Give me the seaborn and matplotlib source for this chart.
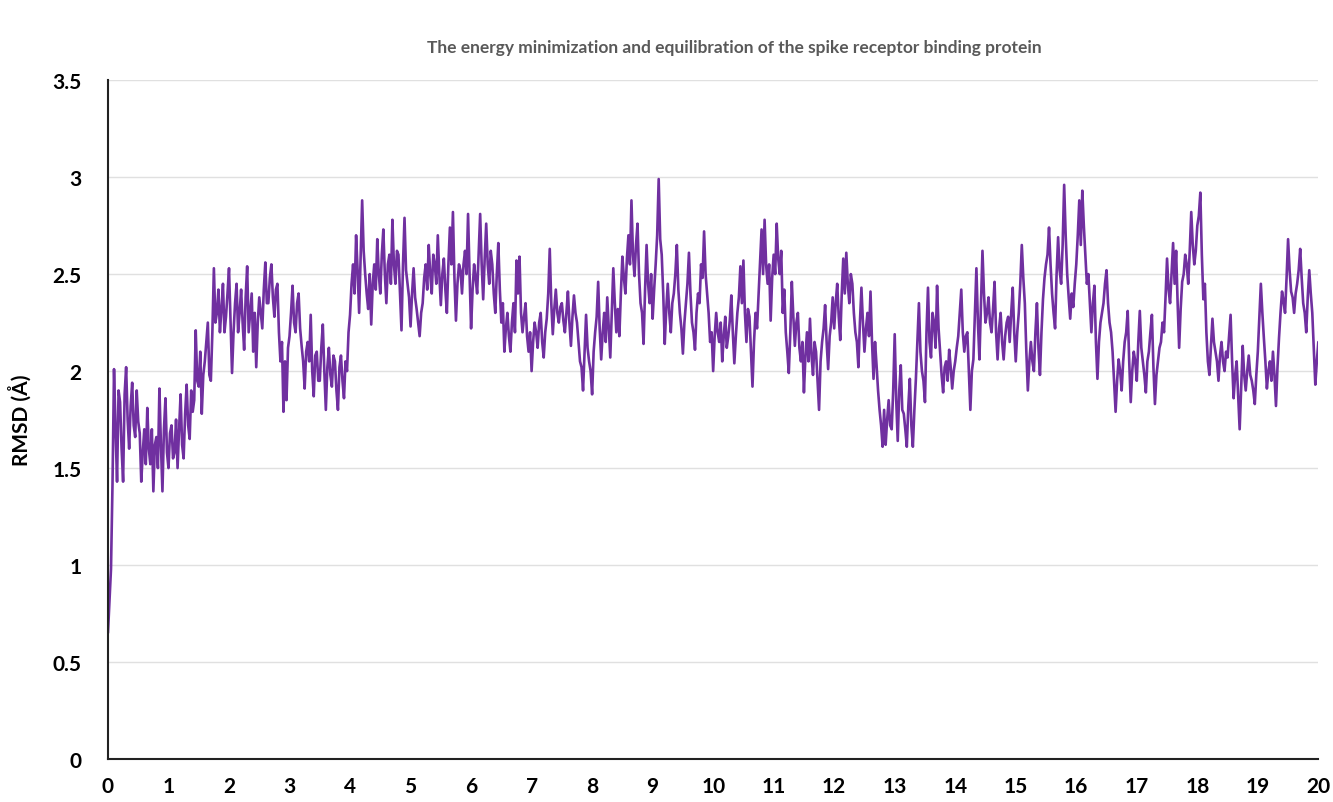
import numpy as np
import pandas as pd
import matplotlib.pyplot as plt
import seaborn as sns

# RMSD (A) every 0.05 ns, one row per ns
rmsd_0 = [0.65, 0.98, 2.01, 1.43, 1.84, 1.43, 2.02, 1.60, 1.94, 1.66,
          1.74, 1.43, 1.70, 1.81, 1.52, 1.38, 1.66, 1.91, 1.38, 1.86]
rmsd_1 = [1.50, 1.72, 1.58, 1.50, 1.88, 1.55, 1.93, 1.65, 1.79, 2.21,
          1.92, 1.78, 2.05, 2.25, 1.95, 2.53, 2.30, 2.20, 2.45, 2.28]
rmsd_2 = [2.53, 1.99, 2.35, 2.20, 2.42, 2.11, 2.54, 2.30, 2.10, 2.02,
          2.38, 2.22, 2.56, 2.35, 2.55, 2.28, 2.45, 2.05, 1.79, 1.85]
rmsd_3 = [2.18, 2.44, 2.20, 2.40, 2.13, 1.91, 2.15, 2.29, 1.87, 2.10,
          1.95, 2.24, 1.80, 2.12, 1.92, 2.05, 1.80, 2.08, 1.86, 2.00]
rmsd_4 = [2.29, 2.55, 2.70, 2.30, 2.88, 2.50, 2.32, 2.24, 2.55, 2.68,
          2.40, 2.73, 2.35, 2.60, 2.78, 2.45, 2.60, 2.21, 2.79, 2.45]
rmsd_5 = [2.23, 2.53, 2.32, 2.18, 2.35, 2.55, 2.65, 2.40, 2.55, 2.70,
          2.34, 2.58, 2.30, 2.74, 2.82, 2.26, 2.55, 2.40, 2.62, 2.81]
rmsd_6 = [2.22, 2.55, 2.40, 2.81, 2.37, 2.76, 2.45, 2.55, 2.30, 2.66,
          2.25, 2.10, 2.30, 2.10, 2.35, 2.57, 2.59, 2.20, 2.35, 2.10]
rmsd_7 = [2.00, 2.25, 2.12, 2.30, 2.07, 2.27, 2.63, 2.19, 2.42, 2.25,
          2.35, 2.20, 2.41, 2.13, 2.39, 2.25, 2.05, 1.90, 2.29, 2.05]
rmsd_8 = [1.88, 2.20, 2.46, 2.06, 2.30, 2.38, 2.07, 2.53, 2.20, 2.18,
          2.59, 2.40, 2.70, 2.88, 2.49, 2.76, 2.35, 2.14, 2.65, 2.35]
rmsd_9 = [2.27, 2.55, 2.99, 2.60, 2.14, 2.45, 2.20, 2.40, 2.65, 2.30,
          2.09, 2.35, 2.61, 2.25, 2.11, 2.40, 2.55, 2.72, 2.40, 2.15]
rmsd_10 = [2.00, 2.30, 2.15, 2.05, 2.28, 2.18, 2.39, 2.04, 2.30, 2.54,
           2.57, 2.15, 2.28, 1.92, 2.30, 2.39, 2.73, 2.78, 2.45, 2.26]
rmsd_11 = [2.60, 2.76, 2.50, 2.30, 2.20, 1.99, 2.46, 2.13, 2.30, 2.05,
           1.89, 2.20, 2.27, 1.98, 2.10, 1.80, 2.15, 2.34, 2.01, 2.25]
rmsd_12 = [2.22, 2.45, 2.16, 2.58, 2.61, 2.35, 2.45, 2.20, 2.02, 2.43,
           2.10, 2.30, 2.41, 1.96, 2.03, 1.80, 1.61, 1.62, 1.85, 1.70]
rmsd_13 = [2.19, 1.64, 2.03, 1.78, 1.61, 1.96, 1.61, 1.96, 2.35, 2.00,
           1.84, 2.43, 2.07, 2.25, 2.44, 2.10, 1.89, 2.05, 2.11, 1.91]
rmsd_14 = [2.05, 2.18, 2.42, 2.10, 2.20, 1.80, 2.06, 2.53, 2.06, 2.62,
           2.25, 2.38, 2.20, 2.46, 2.06, 2.30, 2.06, 2.25, 2.15, 2.43]
rmsd_15 = [2.05, 2.30, 2.65, 2.35, 1.90, 2.15, 2.00, 2.35, 1.98, 2.37,
           2.55, 2.74, 2.40, 2.22, 2.69, 2.45, 2.96, 2.50, 2.27, 2.33]
rmsd_16 = [2.55, 2.88, 2.93, 2.60, 2.50, 2.20, 2.44, 1.96, 2.25, 2.35,
           2.52, 2.25, 2.10, 1.79, 2.06, 1.90, 2.15, 2.31, 1.84, 2.10]
rmsd_17 = [1.95, 2.31, 2.05, 1.89, 2.10, 2.29, 1.83, 2.05, 2.15, 2.20,
           2.58, 2.35, 2.66, 2.62, 2.12, 2.46, 2.60, 2.45, 2.82, 2.55]
rmsd_18 = [2.75, 2.92, 2.37, 2.20, 1.98, 2.27, 2.10, 1.95, 2.15, 2.00,
           2.07, 2.29, 1.86, 2.05, 1.70, 2.13, 1.90, 2.08, 1.95, 1.83]
rmsd_19 = [2.10, 2.45, 2.17, 1.91, 2.05, 2.10, 1.82, 2.17, 2.41, 2.30,
           2.68, 2.41, 2.30, 2.45, 2.63, 2.35, 2.20, 2.52, 2.30, 1.93]
rmsd_end = 2.15

mid_0 = [0.82, 1.42, 1.70, 1.90, 1.60, 1.88, 1.75, 1.82, 1.72, 1.90,
         1.68, 1.58, 1.52, 1.60, 1.70, 1.62, 1.50, 1.62, 1.70, 1.58]
mid_1 = [1.68, 1.55, 1.75, 1.70, 1.62, 1.78, 1.72, 1.90, 1.85, 1.95,
         2.10, 1.98, 2.15, 1.98, 2.20, 2.25, 2.42, 2.32, 2.20, 2.40]
mid_2 = [2.25, 2.20, 2.45, 2.30, 2.25, 2.38, 2.20, 2.40, 2.30, 2.25,
         2.30, 2.42, 2.35, 2.48, 2.38, 2.42, 2.20, 2.15, 2.05, 2.12]
mid_3 = [2.30, 2.25, 2.35, 2.22, 2.05, 2.10, 2.05, 2.00, 2.08, 1.95,
         2.12, 2.00, 2.02, 1.98, 2.08, 1.90, 2.02, 1.95, 2.05, 2.20]
mid_4 = [2.45, 2.40, 2.52, 2.60, 2.62, 2.40, 2.50, 2.45, 2.42, 2.50,
         2.60, 2.50, 2.55, 2.45, 2.55, 2.62, 2.40, 2.55, 2.52, 2.38]
mid_5 = [2.40, 2.38, 2.25, 2.30, 2.48, 2.42, 2.50, 2.60, 2.45, 2.50,
         2.50, 2.42, 2.55, 2.55, 2.48, 2.45, 2.52, 2.55, 2.50, 2.50]
mid_6 = [2.42, 2.48, 2.60, 2.55, 2.58, 2.55, 2.62, 2.40, 2.50, 2.42,
         2.35, 2.22, 2.18, 2.25, 2.20, 2.40, 2.30, 2.28, 2.18, 2.20]
mid_7 = [2.15, 2.20, 2.25, 2.15, 2.20, 2.40, 2.35, 2.32, 2.30, 2.33,
         2.26, 2.30, 2.25, 2.28, 2.30, 2.15, 2.02, 2.10, 2.12, 2.00]
mid_8 = [2.10, 2.28, 2.22, 2.20, 2.15, 2.22, 2.30, 2.35, 2.32, 2.40,
         2.48, 2.58, 2.55, 2.60, 2.65, 2.50, 2.30, 2.42, 2.45, 2.50]
mid_9 = [2.42, 2.70, 2.68, 2.40, 2.32, 2.30, 2.35, 2.50, 2.42, 2.22,
         2.25, 2.45, 2.40, 2.20, 2.30, 2.35, 2.48, 2.50, 2.30, 2.20]
mid_10 = [2.18, 2.20, 2.25, 2.18, 2.12, 2.26, 2.20, 2.18, 2.38, 2.35,
          2.30, 2.32, 2.10, 2.15, 2.22, 2.55, 2.50, 2.55, 2.55, 2.48]
mid_11 = [2.50, 2.58, 2.62, 2.42, 2.10, 2.20, 2.28, 2.25, 2.12, 2.15,
          2.08, 2.05, 2.08, 2.15, 1.95, 2.05, 2.22, 2.15, 2.18, 2.38]
mid_12 = [2.35, 2.28, 2.40, 2.40, 2.45, 2.50, 2.30, 2.15, 2.25, 2.25,
          2.22, 2.18, 2.15, 2.15, 1.90, 1.72, 1.80, 1.75, 1.72, 1.90]
mid_13 = [1.85, 1.90, 1.80, 1.70, 1.82, 1.72, 1.80, 2.15, 2.10, 1.95,
          2.20, 2.15, 2.30, 2.12, 2.22, 1.98, 2.02, 1.95, 2.02, 2.00]
mid_14 = [2.12, 2.30, 2.20, 2.18, 2.00, 2.00, 2.30, 2.25, 2.35, 2.40,
          2.30, 2.25, 2.32, 2.20, 2.22, 2.15, 2.18, 2.28, 2.30, 2.20]
mid_15 = [2.20, 2.45, 2.48, 2.10, 2.05, 2.05, 2.20, 2.12, 2.20, 2.48,
          2.60, 2.55, 2.30, 2.50, 2.52, 2.65, 2.70, 2.38, 2.40, 2.45]
mid_16 = [2.70, 2.65, 2.75, 2.45, 2.35, 2.35, 2.15, 2.15, 2.30, 2.45,
          2.35, 2.20, 1.95, 1.95, 2.00, 2.05, 2.20, 2.05, 2.00, 2.05]
mid_17 = [2.15, 2.12, 1.98, 2.05, 2.20, 2.02, 1.98, 2.12, 2.25, 2.38,
          2.42, 2.50, 2.45, 2.35, 2.32, 2.50, 2.55, 2.62, 2.65, 2.62]
mid_18 = [2.80, 2.60, 2.45, 2.05, 2.12, 2.15, 2.05, 2.08, 2.05, 2.10,
          2.18, 2.05, 1.98, 1.88, 1.92, 1.98, 2.00, 1.98, 1.90, 1.98]
mid_19 = [2.28, 2.30, 2.05, 2.00, 1.95, 1.98, 2.02, 2.30, 2.36, 2.48,
          2.52, 2.38, 2.40, 2.52, 2.48, 2.30, 2.38, 2.40, 2.12, 2.05]

main = (rmsd_0 + rmsd_1 + rmsd_2 + rmsd_3 + rmsd_4 + rmsd_5 + rmsd_6 +
        rmsd_7 + rmsd_8 + rmsd_9 + rmsd_10 + rmsd_11 + rmsd_12 + rmsd_13 +
        rmsd_14 + rmsd_15 + rmsd_16 + rmsd_17 + rmsd_18 + rmsd_19)
mids = (mid_0 + mid_1 + mid_2 + mid_3 + mid_4 + mid_5 + mid_6 + mid_7 +
        mid_8 + mid_9 + mid_10 + mid_11 + mid_12 + mid_13 + mid_14 +
        mid_15 + mid_16 + mid_17 + mid_18 + mid_19)
rmsd = [v for pair in zip(main, mids) for v in pair] + [rmsd_end]
time_step = 0.025
df = pd.DataFrame({'time': np.arange(len(rmsd)) * time_step, 'rmsd': rmsd})

sns.set_theme(style="whitegrid")
plt.rcParams['font.family'] = ['Lato', 'DejaVu Sans']

fig = plt.figure(figsize=(13.33, 8.03), dpi=100)
ax = fig.add_axes([0.081, 0.0535, 0.908, 0.8455])
sns.lineplot(data=df, x='time', y='rmsd', color='#7030A0', linewidth=1.9, ax=ax)

ax.set_xlim(0, 20)
ax.set_ylim(0, 3.5)
ax.set_xticks(range(0, 21))
ax.set_yticks([0, 0.5, 1, 1.5, 2, 2.5, 3, 3.5])
ax.set_yticklabels(['0', '0.5', '1', '1.5', '2', '2.5', '3', '3.5'])
ax.set_xlabel('')
ax.set_ylabel('RMSD (Å)', fontsize=15, fontweight='bold', color='black')
ax.yaxis.set_label_coords(-0.063, 0.5)
ax.tick_params(axis='both', labelsize=15, colors='black', length=0)
for lab in ax.get_xticklabels() + ax.get_yticklabels():
    lab.set_fontweight('bold')
ax.tick_params(axis='x', pad=12)
ax.tick_params(axis='y', pad=19)

ax.grid(axis='x', visible=False)
ax.grid(axis='y', color='#e0e0e0', linewidth=1)
for s in ['top', 'right']:
    ax.spines[s].set_visible(False)
for s in ['left', 'bottom']:
    ax.spines[s].set_color('#222222')
    ax.spines[s].set_linewidth(1.5)

fig.text(0.551, 0.94, 'The energy minimization and equilibration of the spike receptor binding protein',
         ha='center', va='center', fontsize=12.5, fontweight='bold', color='#595959')

fig.savefig('out.png', dpi=100)
